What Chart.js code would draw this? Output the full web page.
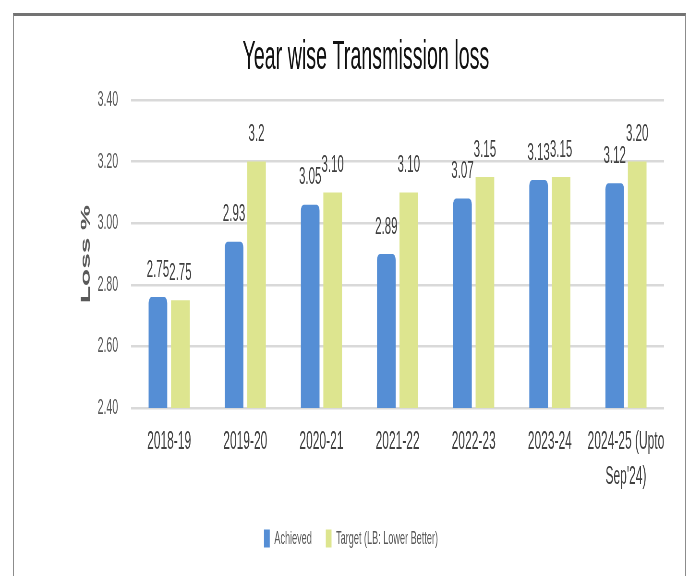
<!DOCTYPE html>
<html>
<head>
<meta charset="utf-8">
<script src="https://cdn.jsdelivr.net/npm/chart.js@4.4.1/dist/chart.umd.min.js"></script>
<style>
  html, body { margin: 0; padding: 0; background: #fff; overflow: hidden; }
  #frame {
    position: absolute; left: 13px; top: 13px; width: 671px; height: 600px;
    border-top: 3px solid #737373; border-left: 1px solid #8c8c8c; border-right: 1px solid #8c8c8c;
  }
  #wrap { position: absolute; left: 0; top: 0; width: 689px; height: 576px; overflow: hidden; }
  /* le graphique d'origine est compressé horizontalement : on dessine large puis on écrase */
  #chart { transform-origin: 0 0; }
</style>
</head>
<body>
<div id="frame"></div>
<div id="wrap"><canvas id="chart" width="1435" height="576"></canvas></div>
<script>
// Données
const categories = ['2018-19', '2019-20', '2020-21', '2021-22', '2022-23', '2023-24', ['2024-25 (Upto', "Sep'24)"]];
const achieved = [2.76, 2.94, 3.06, 2.90, 3.08, 3.14, 3.13];
const target = [2.75, 3.20, 3.10, 3.10, 3.15, 3.15, 3.20];
const achievedLabels = ['2.75', '2.93', '3.05', '2.89', '3.07', '3.13', '3.12'];
const targetLabels = ['2.75', '3.2', '3.10', '3.10', '3.15', '3.15', '3.20'];
const yTicks = [2.40, 2.60, 2.80, 3.00, 3.20, 3.40];

const CANVAS_W = 1435;
const SQUISH = 689 / CANVAS_W;
const FONT = "'Liberation Sans', Arial, sans-serif";

const canvas = document.getElementById('chart');
canvas.style.transform = 'scaleX(' + SQUISH + ')';

// Étiquettes de valeurs au-dessus des barres
const valueLabels = {
  id: 'valueLabels',
  afterDatasetsDraw(chart) {
    const ctx = chart.ctx;
    const texts = [achievedLabels, targetLabels];
    ctx.save();
    ctx.font = '24px ' + FONT;
    ctx.fillStyle = '#404040';
    ctx.textAlign = 'center';
    ctx.textBaseline = 'middle';
    chart.data.datasets.forEach((ds, d) => {
      chart.getDatasetMeta(d).data.forEach((bar, i) => {
        ctx.fillText(texts[d][i], bar.x, bar.y - 27);
      });
    });
    ctx.restore();
  }
};

// Titre dessiné à la main (centré comme sur l'original, pas sur la zone du graphe)
const chartTitle = {
  id: 'chartTitle',
  afterDraw(chart) {
    const ctx = chart.ctx;
    ctx.save();
    ctx.font = '41px ' + FONT;
    ctx.fillStyle = '#111111';
    ctx.textAlign = 'center';
    ctx.textBaseline = 'alphabetic';
    ctx.fillText('Year wise Transmission loss', 762, 69);
    ctx.restore();
  }
};

new Chart(canvas.getContext('2d'), {
  type: 'bar',
  data: {
    labels: categories,
    datasets: [
      {
        label: 'Achieved',
        data: achieved,
        backgroundColor: '#558ed5',
        borderRadius: { topLeft: 6, topRight: 6 },
        borderSkipped: 'bottom',
        categoryPercentage: 0.59,
        barPercentage: 0.83
      },
      {
        label: 'Target (LB: Lower Better)',
        data: target,
        backgroundColor: '#dde58f',
        categoryPercentage: 0.59,
        barPercentage: 0.83
      }
    ]
  },
  options: {
    responsive: false,
    animation: false,
    devicePixelRatio: 1,
    layout: { padding: { left: 79, right: 52, top: 100, bottom: 18 } },
    plugins: {
      title: { display: false },
      tooltip: { enabled: false },
      legend: {
        position: 'bottom',
        labels: {
          boxWidth: 12,
          boxHeight: 18,
          padding: 29,
          color: '#595959',
          font: { family: FONT, size: 19 }
        }
      }
    },
    scales: {
      y: {
        min: yTicks[0],
        max: yTicks[yTicks.length - 1],
        afterBuildTicks: (scale) => { scale.ticks = yTicks.map(v => ({ value: v })); },
        afterFit: (scale) => { scale.width = 194; },
        border: { display: false },
        grid: { color: '#d9d9d9', lineWidth: 2.5, drawTicks: false },
        ticks: {
          padding: 27,
          color: '#595959',
          font: { family: FONT, size: 22 },
          callback: (v) => Number(v).toFixed(2)
        },
        title: {
          display: true,
          text: 'Loss %',
          color: '#595959',
          padding: { top: 83, bottom: 0 },
          font: { family: FONT, size: 28, weight: 'bold' }
        }
      },
      x: {
        afterFit: (scale) => { scale.height = 92; },
        border: { display: false },
        grid: { display: false, drawTicks: false },
        ticks: {
          padding: 17,
          maxRotation: 0,
          minRotation: 0,
          autoSkip: false,
          color: '#404040',
          font: { family: FONT, size: 25, lineHeight: 1.4 }
        }
      }
    }
  },
  plugins: [valueLabels, chartTitle]
});
</script>
</body>
</html>
